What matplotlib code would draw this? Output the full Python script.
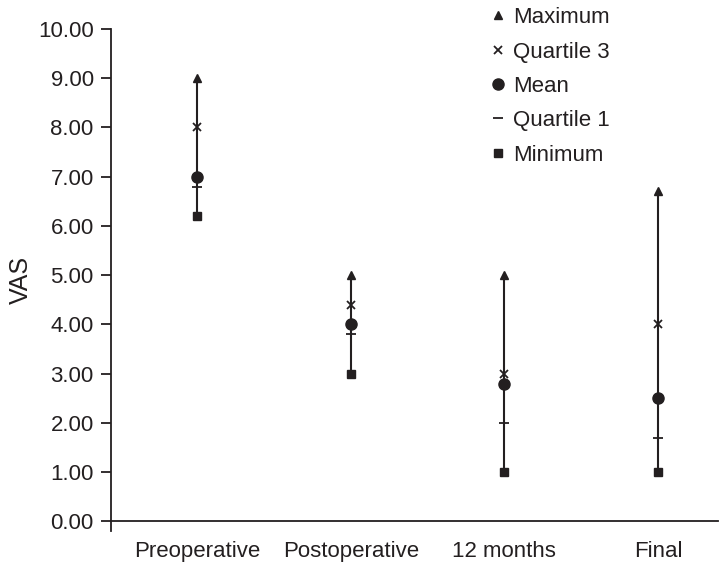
import matplotlib.pyplot as plt
import numpy as np

plt.rcParams['font.family'] = ['Liberation Sans', 'DejaVu Sans']

groups = ['Preoperative', 'Postoperative', '12 months', 'Final']
maximum = [9.0, 5.0, 5.0, 6.7]
quartile3 = [8.0, 4.4, 3.0, 4.0]
mean = [7.0, 4.0, 2.8, 2.5]
quartile1 = [6.8, 3.8, 2.0, 1.7]
minimum = [6.2, 3.0, 1.0, 1.0]
yticks = np.arange(0, 11, 1)

ink = '#231f20'
x = np.arange(len(groups))

fig = plt.figure(figsize=(7.26, 5.67), dpi=100)
ax = fig.add_axes([0.153, 0.063, 0.836, 0.886])

# spines first, set_position resets the tick settings
ax.spines['top'].set_visible(False)
ax.spines['right'].set_visible(False)
ax.spines['bottom'].set_position(('data', 0))
ax.spines['left'].set_bounds(-0.2, 10)
for s in ['left', 'bottom']:
    ax.spines[s].set_color(ink)
    ax.spines[s].set_linewidth(1.3)

# vertical range lines
ax.vlines(x, minimum, maximum, color=ink, lw=1.5, zorder=1)

ax.plot(x, maximum, '^', color=ink, ms=6, ls='none', label='Maximum', zorder=3)
ax.plot(x, quartile3, 'x', color=ink, ms=6, mew=1.3, ls='none', label='Quartile 3', zorder=3)
ax.plot(x, mean, 'o', color=ink, ms=8, ls='none', label='Mean', zorder=3)
ax.plot(x, quartile1, '_', color=ink, ms=7, mew=1.3, ls='none', label='Quartile 1', zorder=3)
ax.plot(x, minimum, 's', color=ink, ms=5.5, ls='none', label='Minimum', zorder=3)

ax.set_xlim(-0.56, 3.39)
ax.set_ylim(-0.2, 10)
ax.set_yticks(yticks)
ax.set_yticklabels([f'{v:.2f}' for v in yticks], fontsize=16, color=ink)
ax.set_xticks(x)
ax.set_xticklabels(groups, fontsize=16, color=ink)
ax.tick_params(axis='x', length=0, pad=14)
ax.tick_params(axis='y', length=7.5, width=1.3, color=ink, pad=5)

ax.set_ylabel('VAS', fontsize=18, color=ink, labelpad=4)

leg = ax.legend(loc='upper left', bbox_to_anchor=(0.664, 1.003), bbox_transform=fig.transFigure,
                frameon=False, fontsize=16, handlelength=0.6, handletextpad=0.4,
                labelspacing=0.6, borderaxespad=0.0)
for t in leg.get_texts():
    t.set_color(ink)

fig.savefig('out.png', dpi=100)
